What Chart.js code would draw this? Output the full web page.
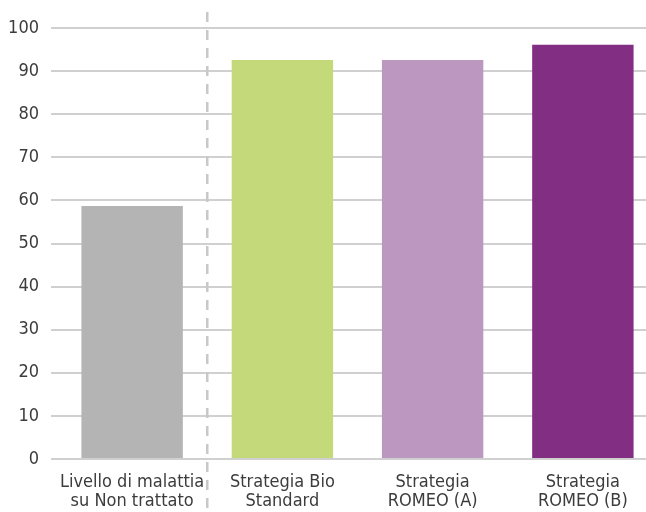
<!DOCTYPE html>
<html>
<head>
<meta charset="utf-8">
<script src="https://cdn.jsdelivr.net/npm/chart.js@4"></script>
<style>
  html, body { margin: 0; padding: 0; overflow: hidden; background: #fff; }
  #wrap { width: 660px; height: 512px; }
</style>
</head>
<body>
<div id="wrap"><canvas id="myChart"></canvas></div>
<script>
const labels = [
    ['Livello di malattia', 'su Non trattato'],
    ['Strategia Bio', 'Standard'],
    ['Strategia', 'ROMEO (A)'],
    ['Strategia', 'ROMEO (B)']
];
const values = [58.7, 92.6, 92.6, 96.1];
const barColors = ['#b4b4b4', '#c4da7a', '#bc98c0', '#822e82'];
const yTicks = [0, 10, 20, 30, 40, 50, 60, 70, 80, 90, 100];

const fontFamily = "'Liberation Sans Narrow', 'DejaVu Sans Condensed', sans-serif";

// dashed divider between the first and the other categories
const divider = {
    id: 'divider',
    afterDatasetsDraw(chart) {
        const x = chart.scales.x.getPixelForValue(0.5);
        const c = chart.ctx;
        c.save();
        c.strokeStyle = '#c8c8c8';
        c.lineWidth = 2.5;
        c.setLineDash([10, 8]);
        c.beginPath();
        c.moveTo(x, 12);
        c.lineTo(x, chart.height);
        c.stroke();
        c.restore();
    }
};

const ctx = document.getElementById('myChart').getContext('2d');
const myChart = new Chart(ctx, {
    type: 'bar',
    data: {
        labels: labels,
        datasets: [{
            data: values,
            backgroundColor: barColors,
            borderWidth: 0,
            barPercentage: 0.675,
            categoryPercentage: 1
        }]
    },
    plugins: [divider],
    options: {
        responsive: true,
        maintainAspectRatio: false,
        animation: false,
        layout: { padding: { top: 28, right: 2, bottom: 0, left: 0 } },
        scales: {
            x: {
                afterFit(scale) { scale.height = 53; },
                grid: { display: false },
                border: { display: false },
                ticks: {
                    color: '#3c3c3c',
                    padding: 5,
                    maxRotation: 0,
                    autoSkip: false,
                    font: { family: fontFamily, size: 18, lineHeight: 1.1 }
                }
            },
            y: {
                min: 0,
                max: 100,
                afterFit(scale) { scale.width = 57; },
                afterBuildTicks(scale) { scale.ticks = yTicks.map(v => ({ value: v })); },
                grid: { color: '#d0d0d0', lineWidth: 2, tickLength: 6, drawTicks: true },
                border: { display: false },
                ticks: {
                    color: '#3c3c3c',
                    padding: 12,
                    font: { family: fontFamily, size: 18 }
                }
            }
        },
        plugins: {
            legend: { display: false },
            tooltip: { enabled: false }
        }
    }
});
</script>
</body>
</html>
